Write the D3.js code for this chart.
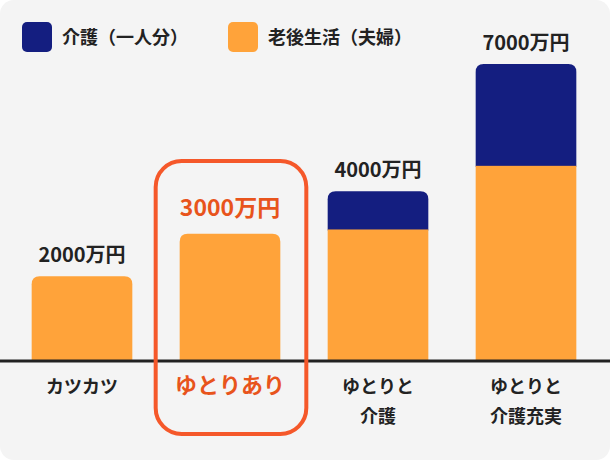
<!DOCTYPE html>
<html lang="ja">
<head>
<meta charset="UTF-8">
<script src="https://cdn.jsdelivr.net/npm/d3@7"></script>
<style>
    body { margin: 0; background: #fff; }
    svg { font-family: "Noto Sans CJK JP", "Noto Sans", sans-serif; }
</style>
</head>
<body>
<script>
    // Data
    const categories = ["カツカツ", "ゆとりあり", "ゆとりと\n介護", "ゆとりと\n介護充実"];
    const livingCost = [2000, 3000, 3100, 4600];
    const careCost = [0, 0, 900, 2400];
    const totalLabels = ["2000万円", "3000万円", "4000万円", "7000万円"];
    const legendLabels = ["介護（一人分）", "老後生活（夫婦）"];

    const width = 610, height = 460;
    const navy = "#141e80", orange = "#ffa33a", red = "#f5582a";

    const svg = d3.select("body").append("svg")
        .attr("width", width).attr("height", height);

    svg.append("rect").attr("width", width).attr("height", height)
        .attr("rx", 14).attr("fill", "#f4f4f4");

    const x = d3.scaleBand().domain(categories).range([8, 600])
        .paddingInner(0.32).paddingOuter(0.16);
    const y = d3.scaleLinear().domain([0, 7000]).range([361, 64]);

    const r = 8;
    // path with rounded top corners
    function topRounded(x0, y0, w, h, rad) {
        return `M${x0},${y0 + h}V${y0 + rad}Q${x0},${y0} ${x0 + rad},${y0}H${x0 + w - rad}Q${x0 + w},${y0} ${x0 + w},${y0 + rad}V${y0 + h}Z`;
    }

    categories.forEach((c, i) => {
        const bx = x(c), bw = x.bandwidth();
        const total = livingCost[i] + careCost[i];
        if (careCost[i] > 0) {
            svg.append("path").attr("fill", navy)
                .attr("d", topRounded(bx, y(total), bw, y(livingCost[i]) - y(total) + 1, r));
            svg.append("rect").attr("fill", orange)
                .attr("x", bx).attr("y", y(livingCost[i]))
                .attr("width", bw).attr("height", y(0) - y(livingCost[i]));
        } else {
            svg.append("path").attr("fill", orange)
                .attr("d", topRounded(bx, y(total), bw, y(0) - y(total), r));
        }
        const hl = i === 1;
        svg.append("text")
            .attr("x", bx + bw / 2).attr("y", y(total) - (hl ? 18 : 14))
            .attr("text-anchor", "middle")
            .attr("font-size", hl ? 23 : 20).attr("font-weight", "bold")
            .attr("fill", hl ? "#e8541c" : "#222")
            .text(totalLabels[i]);

        const lines = c.split("\n");
        lines.forEach((l, k) => {
            svg.append("text")
                .attr("x", bx + bw / 2).attr("y", 393 + k * 30)
                .attr("text-anchor", "middle")
                .attr("font-size", hl ? 22 : 18).attr("font-weight", "bold")
                .attr("fill", hl ? "#e8541c" : "#222")
                .text(l);
        });
    });

    // baseline
    svg.append("line").attr("x1", 0).attr("x2", width)
        .attr("y1", y(0)).attr("y2", y(0))
        .attr("stroke", "#222").attr("stroke-width", 3);

    // highlight frame
    const hx = x(categories[1]);
    svg.append("rect")
        .attr("x", hx - 24).attr("y", 161)
        .attr("width", x.bandwidth() + 50).attr("height", 273)
        .attr("rx", 26).attr("fill", "none")
        .attr("stroke", red).attr("stroke-width", 4);

    // legend
    const legend = [[navy, legendLabels[0], 22], [orange, legendLabels[1], 228]];
    legend.forEach(([col, txt, lx]) => {
        svg.append("rect").attr("x", lx).attr("y", 22).attr("width", 30).attr("height", 30)
            .attr("rx", 5).attr("fill", col);
        svg.append("text").attr("x", lx + 40).attr("y", 44)
            .attr("font-size", 18).attr("font-weight", "bold").attr("fill", "#222")
            .text(txt);
    });
</script>
</body>
</html>
